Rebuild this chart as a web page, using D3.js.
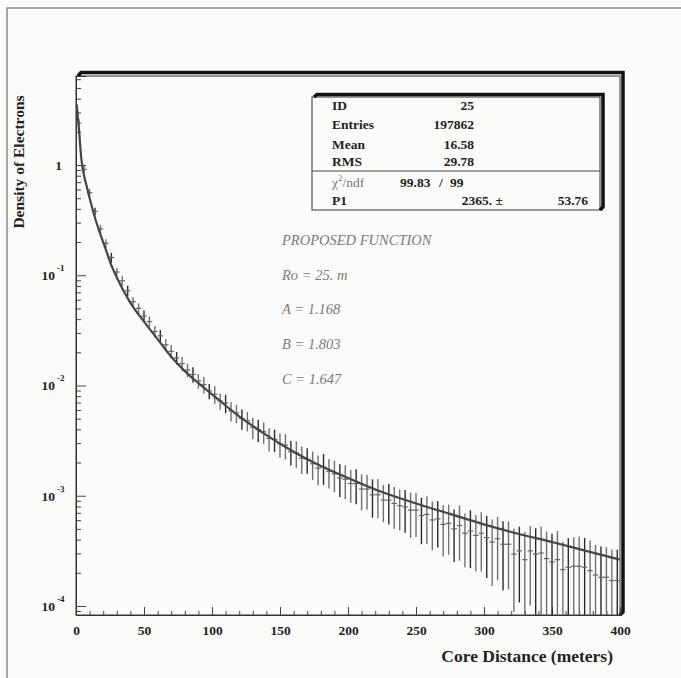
<!DOCTYPE html>
<html>
<head>
<meta charset="utf-8">
<script src="https://cdn.jsdelivr.net/npm/d3@7/dist/d3.min.js"></script>
<style>
body { margin: 0; background: #fbfbfa; }
svg { display: block; }
</style>
</head>
<body>
<script>
// histogram bins (core distance, m) - 4 m wide
var binCenters = [2,6,10,14,18,22,26,30,34,38,42,46,50,54,58,62,66,70,74,78,
  82,86,90,94,98,102,106,110,114,118,122,126,130,134,138,142,146,150,154,158,
  162,166,170,174,178,182,186,190,194,198,202,206,210,214,218,222,226,230,234,238,
  242,246,250,254,258,262,266,270,274,278,282,286,290,294,298,302,306,310,314,318,
  322,326,330,334,338,342,346,350,354,358,362,366,370,374,378,382,386,390,394,398];
var binWidth = 4;

var density = [2.40,0.912,0.562,0.380,0.263,0.195,0.145,0.107,0.0891,0.0724,
  0.0575,0.0501,0.0427,0.0380,0.0309,0.0282,0.0234,0.0204,0.0178,0.0158,
  0.0138,0.0126,0.0110,0.0102,0.00891,0.00832,0.00724,0.00692,0.00589,0.00562,
  0.00501,0.00479,0.00417,0.00398,0.00380,0.00331,0.00324,0.00295,0.00288,0.00251,
  0.00245,0.00219,0.00214,0.00195,0.00178,0.00182,0.00166,0.00158,0.00145,0.00141,
  0.00129,0.00129,0.00115,0.00115,0.00102,0.00102,0.000912,0.000912,0.000851,0.000813,
  0.000794,0.000741,0.000741,0.000661,0.000676,0.000603,0.000617,0.000550,0.000562,0.000501,
  0.000537,0.000457,0.000479,0.000437,0.000457,0.000417,0.000380,0.000407,0.000363,0.000363,
  0.000295,0.000316,0.000263,0.000316,0.000295,0.000302,0.000269,0.000251,0.000263,0.000214,
  0.000224,0.000229,0.000229,0.000224,0.000209,0.000191,0.000182,0.000182,0.000170,0.000170];

// relative error of each bin
var relErr = [0.08,0.07,0.08,0.08,0.09,
  0.09,0.10,0.09,0.10,0.11,0.10,0.11,0.12,0.11,0.12,
  0.13,0.12,0.14,0.13,0.15,0.14,0.16,0.15,0.17,0.16,
  0.18,0.17,0.19,0.20,0.19,0.21,0.20,0.22,0.23,0.22,
  0.24,0.23,0.25,0.26,0.25,0.27,0.28,0.26,0.29,0.30,
  0.31,0.30,0.32,0.33,0.34,0.33,0.35,0.36,0.35,0.38,
  0.39,0.37,0.40,0.41,0.40,0.42,0.44,0.43,0.45,0.46,
  0.47,0.45,0.49,0.48,0.50,0.52,0.51,0.54,0.53,0.55,
  0.57,0.60,0.58,0.62,0.61,0.70,0.66,0.78,0.68,0.72,
  0.74,0.76,0.80,0.82,0.78,0.84,0.83,0.86,0.85,0.88,
  0.87,0.90,0.88,0.91,0.90];

// proposed function
var fitR = [0.5,2,4,6,8,10,14,18,22,26,30,40,50,60,70,80,90,100,120,140,160,180,200,225,250,275,300,325,350,375,400];
var fitDensity = [3.55,2.24,1.12,0.794,0.631,0.501,0.331,0.234,0.170,0.123,0.0955,0.0562,0.0380,0.0263,0.0182,0.0135,0.0105,0.00832,0.00525,0.00355,0.00251,0.00186,0.00145,0.00108,0.000851,0.000684,0.000550,0.000452,0.000380,0.000316,0.000263];

var xTicks = [0,50,100,150,200,250,300,350,400];
var yTickExp = [0,-1,-2,-3,-4];

var statLabels = ["ID","Entries","Mean","RMS"];
var statValues = ["25","197862","16.58","29.78"];
var fitLines = ["PROPOSED FUNCTION","Ro = 25. m","A = 1.168","B = 1.803","C = 1.647"];

var W = 681, H = 678;
var svg = d3.select("body").append("svg").attr("width", W).attr("height", H);
var serif = "'Liberation Serif','DejaVu Serif',serif";

var x = d3.scaleLinear().domain([0,400]).range([76,620]);
var y = d3.scaleLog().domain([8.28e-5,6.42]).range([615,76]);

// outer page frame (left and top only visible)
svg.append("path").attr("d","M7,678 L7,8 L681,8")
  .attr("fill","none").attr("stroke","#8a8a8a").attr("stroke-width",1.5);

// plot frame with shadow
svg.append("rect").attr("x",76).attr("y",76).attr("width",544).attr("height",539)
  .attr("fill","none").attr("stroke","#333").attr("stroke-width",1);
svg.append("path").attr("d","M78,76 L81,72.5 L623,72.5 L623,612 L620,615")
  .attr("fill","none").attr("stroke","#111").attr("stroke-width",3.5);

// axes (ticks inward)
var gx = svg.append("g").attr("transform","translate(0,615)");
gx.call(d3.axisBottom(x).tickValues(d3.range(0,401,10)).tickSize(-4).tickFormat(""));
var gx2 = svg.append("g").attr("transform","translate(0,615)");
gx2.call(d3.axisBottom(x).tickValues(xTicks).tickSize(-8).tickPadding(10).tickFormat(d3.format("d")));
[gx,gx2].forEach(function(g){
  g.select(".domain").attr("stroke","#333");
  g.selectAll(".tick line").attr("stroke","#444");
});
gx2.selectAll(".tick text").attr("font-family",serif).attr("font-weight","bold")
  .attr("font-size",13.5).attr("fill","#222");

var minorY = [];
for (var e = -5; e <= 0; e++) for (var k = 2; k <= 9; k++) {
  var v = k*Math.pow(10,e);
  if (v > 8.28e-5 && v < 6.42) minorY.push(v);
}
var gy = svg.append("g").attr("transform","translate(76,0)");
gy.call(d3.axisLeft(y).tickValues(minorY).tickSize(-5).tickFormat(""));
var gy2 = svg.append("g").attr("transform","translate(76,0)");
gy2.call(d3.axisLeft(y).tickValues(yTickExp.map(function(p){return Math.pow(10,p);})).tickSize(-10).tickFormat(""));
[gy,gy2].forEach(function(g){
  g.select(".domain").attr("stroke","#333");
  g.selectAll(".tick line").attr("stroke","#444");
});

// y tick labels with exponents
var yl = svg.append("g").attr("font-family",serif).attr("font-weight","bold").attr("fill","#222");
yTickExp.forEach(function(p){
  var yy = y(Math.pow(10,p));
  if (p === 0) {
    yl.append("text").attr("x",62).attr("y",yy+5).attr("text-anchor","end").attr("font-size",13.5).text("1");
  } else {
    yl.append("text").attr("x",55).attr("y",yy+5).attr("text-anchor","end").attr("font-size",13.5).text("10");
    yl.append("text").attr("x",57).attr("y",yy-4).attr("font-size",9).text(String(p));
  }
});

// axis titles
svg.append("text").attr("transform","translate(24,162) rotate(-90)").attr("text-anchor","middle")
  .attr("font-family",serif).attr("font-weight","bold").attr("font-size",15.5).attr("fill","#222")
  .text("Density of Electrons");
svg.append("text").attr("x",613).attr("y",662).attr("text-anchor","end")
  .attr("font-family",serif).attr("font-weight","bold").attr("font-size",17.5).attr("fill","#222")
  .text("Core Distance (meters)");

// data: error bars and bin markers
var bins = binCenters.map(function(r,i){
  return {r:r, v:density[i], e:density[i]*relErr[i]};
});
var yMin = y.domain()[0];
var gd = svg.append("g");
gd.selectAll("line.err").data(bins).enter().append("line").attr("class","err")
  .attr("x1",function(d){return x(d.r);}).attr("x2",function(d){return x(d.r);})
  .attr("y1",function(d){return y(Math.min(d.v+d.e, 6.42));})
  .attr("y2",function(d){return y(Math.max(d.v-d.e, yMin));})
  .attr("stroke",function(d,i){return i%3===0 ? "#2a2a2a" : "#707070";})
  .attr("stroke-width",1.4);
gd.selectAll("line.bin").data(bins).enter().append("line").attr("class","bin")
  .attr("x1",function(d){return x(d.r-binWidth/2);}).attr("x2",function(d){return x(d.r+binWidth/2);})
  .attr("y1",function(d){return y(d.v);}).attr("y2",function(d){return y(d.v);})
  .attr("stroke","#666").attr("stroke-width",1.2);

// fitted curve
var line = d3.line().x(function(d){return x(d[0]);}).y(function(d){return y(d[1]);}).curve(d3.curveMonotoneX);
svg.append("path").datum(fitR.map(function(r,i){return [r, fitDensity[i]];}))
  .attr("d",line).attr("fill","none").attr("stroke","#454545").attr("stroke-width",2.2);

// function text
svg.append("g").selectAll("text").data(fitLines).enter().append("text")
  .attr("x",282).attr("y",function(d,i){return 245+i*34.7;})
  .attr("font-family",serif).attr("font-style","italic").attr("font-size",14.5)
  .attr("fill","#7a7a7a").text(function(d){return d;});

// statistics box
var sb = svg.append("g");
sb.append("rect").attr("x",312).attr("y",97).attr("width",288).attr("height",113)
  .attr("fill","#fbfbfa").attr("stroke","#333").attr("stroke-width",1);
sb.append("path").attr("d","M314,97 L317,94.5 L603,94.5 L603,207 L600,210")
  .attr("fill","none").attr("stroke","#111").attr("stroke-width",3.5);
sb.append("line").attr("x1",312).attr("x2",600).attr("y1",171).attr("y2",171)
  .attr("stroke","#444").attr("stroke-width",1);
var rowY = [110,129,149,166];
var st = sb.append("g").attr("font-family",serif).attr("font-weight","bold").attr("font-size",13.5).attr("fill","#222");
statLabels.forEach(function(s,i){
  st.append("text").attr("x",332).attr("y",rowY[i]).text(s);
  st.append("text").attr("x",474).attr("y",rowY[i]).attr("text-anchor","end").text(statValues[i]);
});
var chi = sb.append("text").attr("x",332).attr("y",187).attr("font-family",serif).attr("font-size",13.5).attr("fill","#777");
chi.append("tspan").text("\u03C7");
chi.append("tspan").attr("font-size",9).attr("dy",-6).text("2");
chi.append("tspan").attr("dy",6).text("/ndf");
st.append("text").attr("x",400).attr("y",187).text("99.83");
st.append("text").attr("x",439).attr("y",187).text("/");
st.append("text").attr("x",450).attr("y",187).text("99");
st.append("text").attr("x",332).attr("y",205).text("P1");
st.append("text").attr("x",503).attr("y",205).attr("text-anchor","end").text("2365. \u00B1");
st.append("text").attr("x",588).attr("y",205).attr("text-anchor","end").text("53.76");
</script>
</body>
</html>
